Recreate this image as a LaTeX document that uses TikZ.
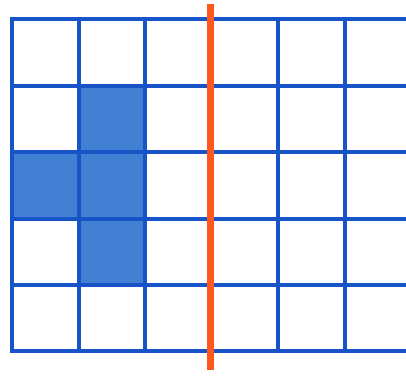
\documentclass[tikz,border=0pt]{standalone}
\definecolor{gridblue}{RGB}{22,84,200}
\definecolor{cellblue}{RGB}{66,128,212}
\definecolor{cutorange}{RGB}{255,88,30}
\begin{document}
\begin{tikzpicture}[x=1pt,y=-1pt,
  gridline/.style={draw=gridblue,line width=3.2pt,line cap=rect},
  cellfill/.style={fill=cellblue},
  cutline/.style={draw=cutorange,line width=7pt}]
\useasboundingbox (0,0) rectangle (406,375);
% filled cells
\fill[cellfill] (79,86) rectangle (145,152);
\fill[cellfill] (12,152) rectangle (145,219);
\fill[cellfill] (79,219) rectangle (145,285);
% horizontal lines
\foreach \y in {19,86,152,219,285,351}
  \draw[gridline] (12,\y) -- (410,\y);
% vertical lines
\foreach \x in {12,79,145,211,278,345}
  \draw[gridline] (\x,19) -- (\x,351);
% orange line
\draw[cutline] (210,4) -- (210,370);
\end{tikzpicture}
\end{document}
